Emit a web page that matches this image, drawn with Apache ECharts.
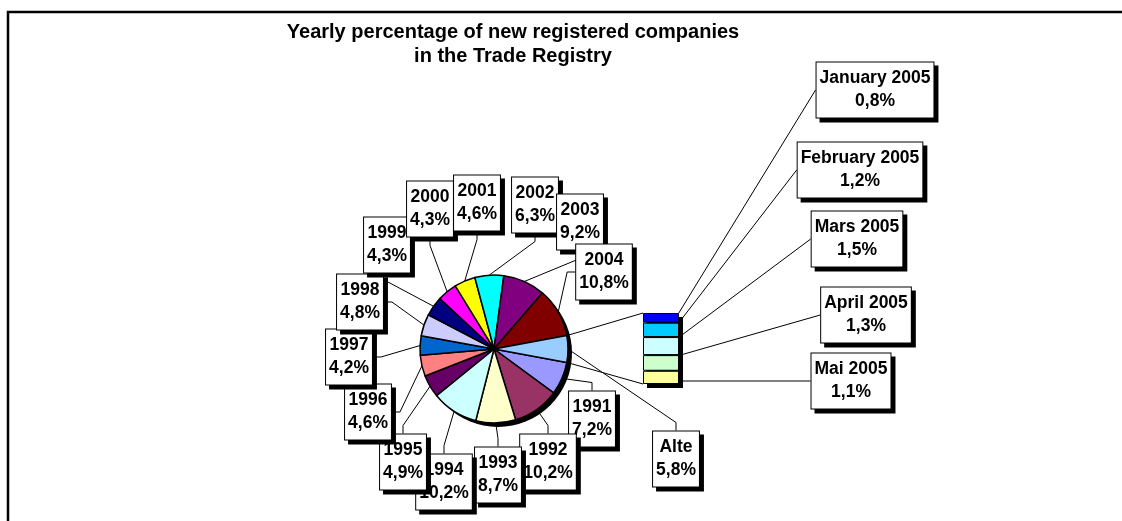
<!DOCTYPE html>
<html><head><meta charset="utf-8">
<script src="https://cdn.jsdelivr.net/npm/echarts@6/dist/echarts.min.js"></script>
<style>html,body{margin:0;padding:0;background:#fff}#c{width:1122px;height:521px}</style>
</head><body><div id="c"></div>
<script>
// ---- data ----
const titleLines = ['Yearly percentage of new registered companies', 'in the Trade Registry'];
const years = ['1991','1992','1993','1994','1995','1996','1997','1998','1999','2000','2001','2002','2003','2004','Alte'];
const yearValues = [7.2, 10.2, 8.7, 10.2, 4.9, 4.6, 4.2, 4.8, 4.3, 4.3, 4.6, 6.3, 9.2, 10.8, 5.8];
const months = ['January 2005','February 2005','Mars 2005','April 2005','Mai 2005'];
const monthValues = [0.8, 1.2, 1.5, 1.3, 1.1];

// ---- styles / layout ----
const sliceColors = ['#9999FF','#993366','#FFFFCC','#CCFFFF','#660066','#FF8080','#0066CC','#CCCCFF','#000080','#FF00FF','#FFFF00','#00FFFF','#800080','#800000','#99CCFF'];
const monthColors = ['#0000FF','#00CCFF','#CCFFFF','#CCFFCC','#FFFF99'];
const yearLabelPos = [[592,419],[548,462],[498,475],[444,482],[403,462],[368,412],[349,357],[360,302],[387,245],[430,209],[477,203],[535,205],[580,222],[604,272],[676,459]];
const monthLabelPos = [[875,90],[860,170],[857,239],[866,315],[851,381]];
const FONT = '"Liberation Sans", Arial, sans-serif';
const PIE_C = [494, 349], PIE_R = 74;
const BAR = {left: 643, top: 313, width: 36, height: 71};

const fmt = v => v.toFixed(1).replace('.', ',') + '%';
const total = yearValues.reduce((a, b) => a + b, 0);
const otherIdx = years.length - 1;
const otherAngle = yearValues[otherIdx] / total * 360;
const startAngle = -otherAngle / 2;
const monthTotal = monthValues.reduce((a, b) => a + b, 0);

const boxLabel = {
  show: true, color: '#000', fontFamily: FONT, fontSize: 17.5, fontWeight: 'bold',
  lineHeight: 23, backgroundColor: '#fff', borderColor: '#000', borderWidth: 1,
  padding: [5, 3, 4, 3], shadowColor: '#000', shadowOffsetX: 4, shadowOffsetY: 4, shadowBlur: 0,
  align: 'center'
};

const chart = echarts.init(document.getElementById('c'), null, {renderer: 'canvas'});

const series = [];
// pie shadow
series.push({
  type: 'pie', center: [PIE_C[0] + 4, PIE_C[1] + 4], radius: PIE_R, silent: true, z: 1,
  label: {show: false}, labelLine: {show: false}, emphasis: {disabled: true},
  data: [{value: 1, name: '', itemStyle: {color: '#000'}}]
});
series.push({
  type: 'pie', center: PIE_C, radius: PIE_R, startAngle: startAngle, clockwise: true,
  avoidLabelOverlap: false, silent: true, z: 2, emphasis: {disabled: true},
  data: years.map((n, i) => ({name: n, value: yearValues[i], itemStyle: {color: sliceColors[i]}})),
  itemStyle: {borderColor: '#000', borderWidth: 1.5},
  label: Object.assign({}, boxLabel, {position: 'outside', formatter: p => p.name + '\n' + fmt(p.value)}),
  labelLine: {show: true, length: 8, length2: 8, lineStyle: {color: '#000', width: 1}},
  labelLayout: p => ({x: yearLabelPos[p.dataIndex][0], y: yearLabelPos[p.dataIndex][1], align: 'center', verticalAlign: 'middle'})
});
// bar shadow (whole stack total, offset grid)
series.push({
  type: 'bar', xAxisIndex: 1, yAxisIndex: 1, barWidth: BAR.width, silent: true, z: 1,
  itemStyle: {color: '#000'}, emphasis: {disabled: true}, data: [monthTotal]
});
// stacked bar: bottom first (Mai) up to January
for (let k = months.length - 1; k >= 0; k--) {
  series.push({
    type: 'bar', name: months[k], stack: 'm', xAxisIndex: 0, yAxisIndex: 0,
    barWidth: BAR.width, silent: true, z: 3, emphasis: {disabled: true},
    itemStyle: {color: monthColors[k], borderColor: '#000', borderWidth: 1},
    data: [monthValues[k]],
    label: Object.assign({}, boxLabel, {position: 'inside', formatter: p => p.seriesName + '\n' + fmt(p.value)}),
    labelLine: {show: true, lineStyle: {color: '#000', width: 1}},
    labelLayout: () => ({x: monthLabelPos[k][0], y: monthLabelPos[k][1], align: 'center', verticalAlign: 'middle'})
  });
}

chart.setOption({
  animation: false,
  backgroundColor: '#fff',
  title: {
    text: titleLines.join('\n'), left: 513, top: 20, padding: 0, textAlign: 'center',
    textStyle: {fontFamily: FONT, fontSize: 20, fontWeight: 'bold', lineHeight: 24, color: '#000'}
  },
  grid: [
    {left: BAR.left, top: BAR.top, width: BAR.width, height: BAR.height},
    {left: BAR.left + 4, top: BAR.top + 4, width: BAR.width, height: BAR.height}
  ],
  xAxis: [
    {type: 'category', data: [''], show: false, gridIndex: 0},
    {type: 'category', data: [''], show: false, gridIndex: 1}
  ],
  yAxis: [
    {type: 'value', min: 0, max: monthTotal, show: false, gridIndex: 0},
    {type: 'value', min: 0, max: monthTotal, show: false, gridIndex: 1}
  ],
  series: series
});

// frame + connector lines derived from pie geometry and bar axis
const a = otherAngle / 2 * Math.PI / 180;
const pTop = [PIE_C[0] + PIE_R * Math.cos(a), PIE_C[1] - PIE_R * Math.sin(a)];
const pBot = [PIE_C[0] + PIE_R * Math.cos(a), PIE_C[1] + PIE_R * Math.sin(a)];
const bTop = chart.convertToPixel({xAxisIndex: 0, yAxisIndex: 0}, [0, monthTotal]);
const bBot = chart.convertToPixel({xAxisIndex: 0, yAxisIndex: 0}, [0, 0]);
const barLeft = bTop[0] - BAR.width / 2;
chart.setOption({
  graphic: [
    {type: 'rect', shape: {x: 8, y: 12, width: 3000, height: 3000}, style: {fill: 'none', stroke: '#000', lineWidth: 2.5}, silent: true, z: 0},
    {type: 'line', shape: {x1: pTop[0], y1: pTop[1], x2: barLeft, y2: bTop[1]}, style: {stroke: '#000', lineWidth: 1}, silent: true, z: 1},
    {type: 'line', shape: {x1: pBot[0], y1: pBot[1], x2: barLeft, y2: bBot[1]}, style: {stroke: '#000', lineWidth: 1}, silent: true, z: 1}
  ]
});
</script>
</body></html>
